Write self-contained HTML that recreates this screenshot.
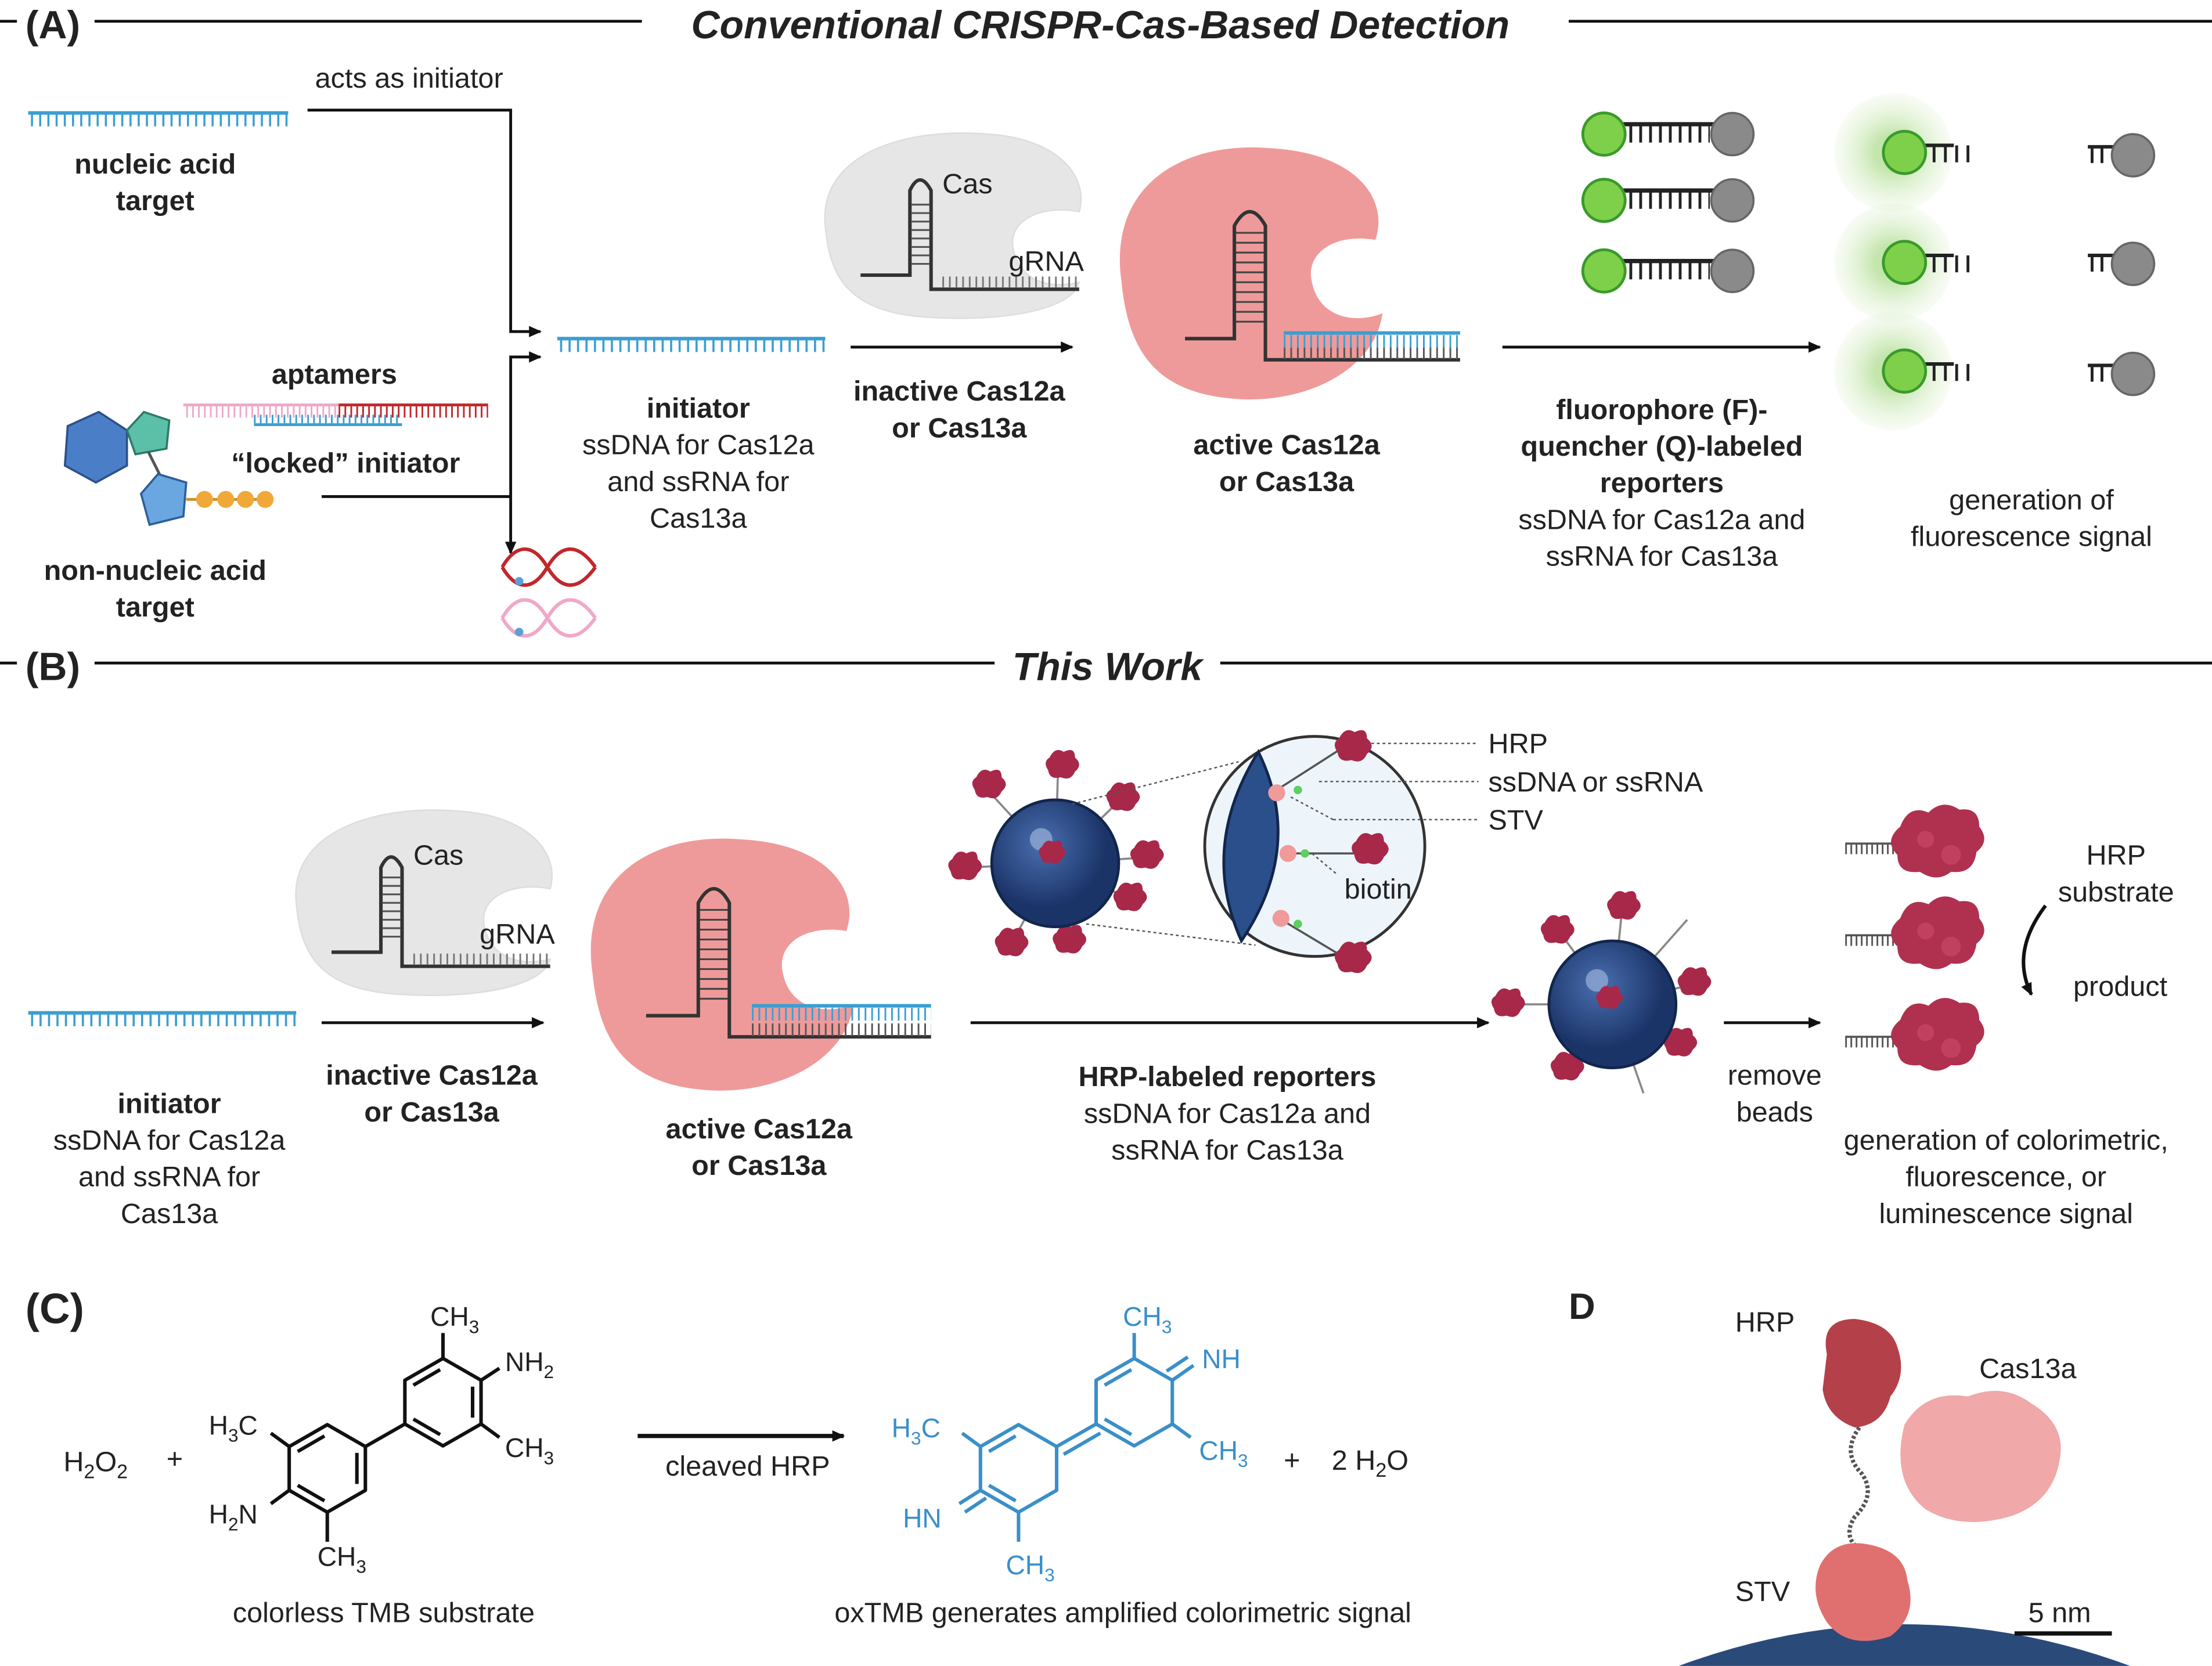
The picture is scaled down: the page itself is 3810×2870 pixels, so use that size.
<!DOCTYPE html>
<html><head><meta charset="utf-8"><style>
html,body{margin:0;padding:0;background:#fff;overflow:hidden;width:3810px;height:2870px}
svg{display:block}
text{font-family:"Liberation Sans",Arial,sans-serif;fill:#222}
.b{font-weight:bold}
.c{text-anchor:middle}
</style></head><body>
<svg width="3810" height="2870" viewBox="0 0 1568 1181" xmlns="http://www.w3.org/2000/svg" overflow="hidden">
<defs>
<marker id="ar" markerWidth="10" markerHeight="10" refX="8" refY="5" orient="auto" markerUnits="userSpaceOnUse"><path d="M0,1 L9,5 L0,9 Z" fill="#111"/></marker>
<radialGradient id="glow"><stop offset="0.3" stop-color="#9fd77a" stop-opacity="0.9"/><stop offset="1" stop-color="#dff0d0" stop-opacity="0.3"/></radialGradient>
<radialGradient id="bead" cx="0.4" cy="0.35"><stop offset="0" stop-color="#4a6fb0"/><stop offset="1" stop-color="#1b3468"/></radialGradient>
<g id="strandB"><line x1="0" y1="0" x2="190" y2="0" stroke="#3a9fd2" stroke-width="2.5"/><line x1="2" y1="5" x2="190" y2="5" stroke="#3a9fd2" stroke-width="9" stroke-dasharray="1.5 4.5"/></g>
<g id="hrp"><path d="M-8,-6 q4,-8 10,-4 q8,-4 8,4 q6,5 0,10 q-3,7 -10,4 q-8,2 -9,-5 q-4,-6 1,-9z" fill="#a8284a"/></g>
<g id="hrpBig"><path d="M-28,-14 q6,-16 20,-10 q10,-10 22,-2 q14,-2 14,12 q8,10 -2,18 q-2,16 -18,14 q-10,8 -22,0 q-16,2 -16,-12 q-10,-10 2,-20z" fill="#b0304f"/><circle cx="-10" cy="-5" r="6" fill="#c2405f"/><circle cx="8" cy="6" r="7" fill="#c2405f"/></g>
</defs>

<!-- (A) header -->
<line x1="0" y1="15" x2="455" y2="15" stroke="#111" stroke-width="2"/>
<line x1="1112" y1="15" x2="1568" y2="15" stroke="#111" stroke-width="2"/>
<rect x="12" y="0" width="55" height="30" fill="#fff"/>
<text x="18" y="27" class="b" font-size="28">(A)</text>
<text x="780" y="27" class="b c" font-size="28" font-style="italic">Conventional CRISPR-Cas-Based Detection</text>

<use href="#strandB" transform="translate(20,80) scale(0.97,1)"/>
<text x="110" y="123" class="b c" font-size="20">nucleic acid</text>
<text x="110" y="149" class="b c" font-size="20">target</text>
<text x="290" y="62" class="c" font-size="20">acts as initiator</text>

<polyline points="218,78 362,78 362,235 383,235" fill="none" stroke="#111" stroke-width="2" marker-end="url(#ar)"/>
<polyline points="228,352 362,352 362,253 383,253" fill="none" stroke="#111" stroke-width="2" marker-end="url(#ar)"/>
<line x1="362" y1="352" x2="362" y2="392" stroke="#111" stroke-width="2" marker-end="url(#ar)"/>

<use href="#strandB" transform="translate(395,240)"/>
<text x="495" y="296" class="b c" font-size="20">initiator</text>
<text x="495" y="322" class="c" font-size="20">ssDNA for Cas12a</text>
<text x="495" y="348" class="c" font-size="20">and ssRNA for</text>
<text x="495" y="374" class="c" font-size="20">Cas13a</text>

<line x1="603" y1="246" x2="760" y2="246" stroke="#111" stroke-width="2" marker-end="url(#ar)"/>
<text x="680" y="284" class="b c" font-size="20">inactive Cas12a</text>
<text x="680" y="310" class="b c" font-size="20">or Cas13a</text>

<!-- grey Cas A -->
<path d="M585,160 C580,110 640,90 700,95 C750,98 772,125 765,150 C740,145 715,155 718,175 C722,200 745,205 765,200 C760,220 710,228 660,225 C600,222 588,195 585,160Z" fill="#e6e6e6" stroke="#ddd"/>
<path d="M610,195 L645,195 L645,135 Q652,120 660,135 L660,205 L765,205" fill="none" stroke="#333" stroke-width="2.5"/>
<g stroke="#555" stroke-width="1.3"><line x1="646" y1="145" x2="659" y2="145"/><line x1="646" y1="151" x2="659" y2="151"/><line x1="646" y1="157" x2="659" y2="157"/><line x1="646" y1="163" x2="659" y2="163"/><line x1="646" y1="169" x2="659" y2="169"/><line x1="646" y1="175" x2="659" y2="175"/><line x1="646" y1="181" x2="659" y2="181"/><line x1="646" y1="187" x2="659" y2="187"/></g>
<line x1="668" y1="200" x2="765" y2="200" stroke="#777" stroke-width="8" stroke-dasharray="1.2 3.5"/>
<text x="668" y="137" font-size="20">Cas</text>
<text x="715" y="192" font-size="20">gRNA</text>

<!-- pink active A -->
<path d="M795,200 C785,130 840,100 900,105 C960,108 985,140 975,170 C945,165 925,180 930,200 C935,225 960,230 980,222 C975,260 930,285 880,283 C820,280 800,250 795,200Z" fill="#ef9a9a"/>
<path d="M840,240 L875,240 L875,160 Q886,140 897,160 L897,255 L1035,255" fill="none" stroke="#333" stroke-width="2.5"/>
<g stroke="#444" stroke-width="1.3"><line x1="876" y1="165" x2="896" y2="165"/><line x1="876" y1="172" x2="896" y2="172"/><line x1="876" y1="179" x2="896" y2="179"/><line x1="876" y1="186" x2="896" y2="186"/><line x1="876" y1="193" x2="896" y2="193"/><line x1="876" y1="200" x2="896" y2="200"/><line x1="876" y1="207" x2="896" y2="207"/><line x1="876" y1="214" x2="896" y2="214"/><line x1="876" y1="221" x2="896" y2="221"/><line x1="876" y1="228" x2="896" y2="228"/></g>
<line x1="910" y1="250" x2="1035" y2="250" stroke="#555" stroke-width="9" stroke-dasharray="1.2 3.5"/>
<line x1="910" y1="236" x2="1035" y2="236" stroke="#3a9fd2" stroke-width="2.5"/>
<line x1="910" y1="242" x2="1035" y2="242" stroke="#3a9fd2" stroke-width="9" stroke-dasharray="1.2 3.5"/>
<text x="912" y="322" class="b c" font-size="20">active Cas12a</text>
<text x="912" y="348" class="b c" font-size="20">or Cas13a</text>

<line x1="1065" y1="246" x2="1290" y2="246" stroke="#111" stroke-width="2" marker-end="url(#ar)"/>
<text x="1178" y="297" class="b c" font-size="20">fluorophore (F)-</text>
<text x="1178" y="323" class="b c" font-size="20">quencher (Q)-labeled</text>
<text x="1178" y="349" class="b c" font-size="20">reporters</text>
<text x="1178" y="375" class="c" font-size="20">ssDNA for Cas12a and</text>
<text x="1178" y="401" class="c" font-size="20">ssRNA for Cas13a</text>

<!-- reporters -->
<g id="rep">
<line x1="1150" y1="88" x2="1215" y2="88" stroke="#222" stroke-width="3"/>
<line x1="1155" y1="95" x2="1212" y2="95" stroke="#222" stroke-width="12" stroke-dasharray="2 5"/>
<circle cx="1137" cy="95" r="15" fill="#7ed04a" stroke="#3a9a2a" stroke-width="2"/>
<circle cx="1228" cy="95" r="15" fill="#8a8a8a" stroke="#666" stroke-width="1.5"/>
</g>
<use href="#rep" transform="translate(0,47)"/>
<use href="#rep" transform="translate(0,97)"/>

<g id="gl">
<circle cx="1342" cy="108" r="42" fill="url(#glow)" opacity="0.7"/>
<line x1="1358" y1="103" x2="1385" y2="103" stroke="#222" stroke-width="2.5"/>
<line x1="1370" y1="109" x2="1400" y2="109" stroke="#222" stroke-width="12" stroke-dasharray="2 6"/>
<circle cx="1350" cy="108" r="15" fill="#7ed04a" stroke="#3a9a2a" stroke-width="2"/>
</g>
<use href="#gl" transform="translate(0,78)"/>
<use href="#gl" transform="translate(0,155)"/>
<g id="q"><line x1="1480" y1="104" x2="1498" y2="104" stroke="#222" stroke-width="2.5"/><line x1="1482" y1="110" x2="1496" y2="110" stroke="#222" stroke-width="11" stroke-dasharray="2 5"/><circle cx="1512" cy="110" r="15" fill="#8a8a8a" stroke="#666" stroke-width="1.5"/></g>
<use href="#q" transform="translate(0,77)"/>
<use href="#q" transform="translate(0,155)"/>
<text x="1440" y="361" class="c" font-size="20">generation of</text>
<text x="1440" y="387" class="c" font-size="20">fluorescence signal</text>

<!-- aptamers -->
<text x="237" y="272" class="b c" font-size="20">aptamers</text>
<line x1="130" y1="287" x2="240" y2="287" stroke="#f0a8c8" stroke-width="2"/>
<line x1="132" y1="292" x2="240" y2="292" stroke="#f0a8c8" stroke-width="8" stroke-dasharray="1.2 3"/>
<line x1="240" y1="287" x2="346" y2="287" stroke="#c0282c" stroke-width="2"/>
<line x1="240" y1="292" x2="346" y2="292" stroke="#c0282c" stroke-width="8" stroke-dasharray="1.2 3"/>
<line x1="180" y1="297" x2="285" y2="297" stroke="#3a9fd2" stroke-width="6" stroke-dasharray="1.2 3"/>
<line x1="180" y1="301" x2="285" y2="301" stroke="#3a9fd2" stroke-width="2"/>
<text x="245" y="335" class="b c" font-size="20">“locked” initiator</text>

<!-- molecule -->
<polygon points="48,302 70,292 90,305 90,330 68,342 46,330" fill="#4a7fc8" stroke="#2c4f8a" stroke-width="1.5"/>
<polygon points="90,305 102,292 120,298 118,318 96,322" fill="#5cbfa8" stroke="#2c7a6a" stroke-width="1.5"/>
<line x1="105" y1="320" x2="115" y2="340" stroke="#555" stroke-width="2"/>
<polygon points="100,350 112,336 132,342 130,366 106,372" fill="#6aa6e0" stroke="#2c5f9a" stroke-width="1.5"/>
<line x1="132" y1="354" x2="190" y2="354" stroke="#c89030" stroke-width="2"/>
<circle cx="145" cy="354" r="6" fill="#f0a838"/><circle cx="160" cy="354" r="6" fill="#f0a838"/><circle cx="174" cy="354" r="6" fill="#f0a838"/><circle cx="188" cy="354" r="6" fill="#f0a838"/>
<text x="110" y="411" class="b c" font-size="20">non-nucleic acid</text>
<text x="110" y="437" class="b c" font-size="20">target</text>

<!-- helices -->
<path d="M356,402 C366,385 378,385 388,402 S410,419 422,402 M356,402 C366,419 378,419 388,402 S410,385 422,402" fill="none" stroke="#c0282c" stroke-width="2.5"/>
<path d="M356,438 C366,421 378,421 388,438 S410,455 422,438 M356,438 C366,455 378,455 388,438 S410,421 422,438" fill="none" stroke="#f0a8c8" stroke-width="2.5"/>
<circle cx="368" cy="412" r="3" fill="#5aa0d8"/><circle cx="368" cy="448" r="3" fill="#5aa0d8"/>

<!-- (B) header -->
<line x1="0" y1="470" x2="705" y2="470" stroke="#111" stroke-width="2"/>
<line x1="865" y1="470" x2="1568" y2="470" stroke="#111" stroke-width="2"/>
<rect x="12" y="455" width="55" height="30" fill="#fff"/>
<text x="18" y="482" class="b" font-size="28">(B)</text>
<text x="785" y="482" class="b c" font-size="28" font-style="italic">This Work</text>

<!-- grey Cas B -->
<path d="M210,640 C205,590 265,570 325,575 C375,578 397,605 390,630 C365,625 340,635 343,655 C347,680 370,685 390,680 C385,700 335,708 285,705 C225,702 213,675 210,640Z" fill="#e6e6e6" stroke="#ddd"/>
<path d="M235,675 L270,675 L270,615 Q277,600 285,615 L285,685 L390,685" fill="none" stroke="#333" stroke-width="2.5"/>
<g stroke="#555" stroke-width="1.3"><line x1="271" y1="622" x2="284" y2="622"/><line x1="271" y1="628" x2="284" y2="628"/><line x1="271" y1="634" x2="284" y2="634"/><line x1="271" y1="640" x2="284" y2="640"/><line x1="271" y1="646" x2="284" y2="646"/><line x1="271" y1="652" x2="284" y2="652"/><line x1="271" y1="658" x2="284" y2="658"/><line x1="271" y1="664" x2="284" y2="664"/></g>
<line x1="293" y1="680" x2="390" y2="680" stroke="#777" stroke-width="8" stroke-dasharray="1.2 3.5"/>
<text x="293" y="613" font-size="20">Cas</text>
<text x="340" y="669" font-size="20">gRNA</text>

<use href="#strandB" transform="translate(20,718)"/>
<line x1="228" y1="725" x2="385" y2="725" stroke="#111" stroke-width="2" marker-end="url(#ar)"/>
<text x="306" y="769" class="b c" font-size="20">inactive Cas12a</text>
<text x="306" y="795" class="b c" font-size="20">or Cas13a</text>
<text x="120" y="789" class="b c" font-size="20">initiator</text>
<text x="120" y="815" class="c" font-size="20">ssDNA for Cas12a</text>
<text x="120" y="841" class="c" font-size="20">and ssRNA for</text>
<text x="120" y="867" class="c" font-size="20">Cas13a</text>

<!-- pink active B -->
<path d="M420,690 C410,620 465,590 525,595 C585,598 610,630 600,660 C570,655 550,670 555,690 C560,715 585,720 605,712 C600,750 555,775 505,773 C445,770 425,740 420,690Z" fill="#ef9a9a"/>
<path d="M458,720 L495,720 L495,640 Q506,620 517,640 L517,735 L660,735" fill="none" stroke="#333" stroke-width="2.5"/>
<g stroke="#444" stroke-width="1.3"><line x1="496" y1="645" x2="516" y2="645"/><line x1="496" y1="652" x2="516" y2="652"/><line x1="496" y1="659" x2="516" y2="659"/><line x1="496" y1="666" x2="516" y2="666"/><line x1="496" y1="673" x2="516" y2="673"/><line x1="496" y1="680" x2="516" y2="680"/><line x1="496" y1="687" x2="516" y2="687"/><line x1="496" y1="694" x2="516" y2="694"/><line x1="496" y1="701" x2="516" y2="701"/><line x1="496" y1="708" x2="516" y2="708"/></g>
<line x1="533" y1="730" x2="660" y2="730" stroke="#555" stroke-width="9" stroke-dasharray="1.2 3.5"/>
<line x1="533" y1="713" x2="660" y2="713" stroke="#3a9fd2" stroke-width="2.5"/>
<line x1="533" y1="719" x2="660" y2="719" stroke="#3a9fd2" stroke-width="9" stroke-dasharray="1.2 3.5"/>
<text x="538" y="807" class="b c" font-size="20">active Cas12a</text>
<text x="538" y="833" class="b c" font-size="20">or Cas13a</text>

<line x1="688" y1="725" x2="1055" y2="725" stroke="#111" stroke-width="2" marker-end="url(#ar)"/>
<text x="870" y="770" class="b c" font-size="20">HRP-labeled reporters</text>
<text x="870" y="796" class="c" font-size="20">ssDNA for Cas12a and</text>
<text x="870" y="822" class="c" font-size="20">ssRNA for Cas13a</text>

<!-- bead 1 -->
<g stroke="#888" stroke-width="1.5">
<line x1="748" y1="612" x2="700" y2="560"/><line x1="748" y1="612" x2="750" y2="545"/><line x1="748" y1="612" x2="793" y2="568"/><line x1="748" y1="612" x2="810" y2="608"/><line x1="748" y1="612" x2="800" y2="637"/><line x1="748" y1="612" x2="757" y2="665"/><line x1="748" y1="612" x2="718" y2="667"/><line x1="748" y1="612" x2="685" y2="615"/>
</g>
<use href="#hrp" transform="translate(700,557)"/><use href="#hrp" transform="translate(752,543)"/><use href="#hrp" transform="translate(795,566)"/><use href="#hrp" transform="translate(812,607)"/><use href="#hrp" transform="translate(800,637)"/><use href="#hrp" transform="translate(757,667)"/><use href="#hrp" transform="translate(716,669)"/><use href="#hrp" transform="translate(683,615)"/>
<circle cx="748" cy="612" r="45" fill="url(#bead)" stroke="#12264d" stroke-width="2"/>
<circle cx="738" cy="595" r="8" fill="#9ab0d8" opacity="0.7"/>
<use href="#hrp" transform="translate(745,605) scale(0.8)"/>
<line x1="760" y1="570" x2="878" y2="540" stroke="#555" stroke-dasharray="2 2"/>
<line x1="770" y1="655" x2="890" y2="670" stroke="#555" stroke-dasharray="2 2"/>

<!-- zoom circle -->
<circle cx="932" cy="600" r="78" fill="#edf5fb" stroke="#333" stroke-width="2"/>
<path d="M892,533 Q850,600 880,667 Q925,600 892,533Z" fill="#2a4f8a" stroke="#12264d" stroke-width="2"/>
<g stroke="#555" stroke-width="1.5"><line x1="905" y1="560" x2="955" y2="528"/><line x1="915" y1="605" x2="965" y2="605"/><line x1="905" y1="650" x2="955" y2="680"/></g>
<circle cx="905" cy="562" r="6" fill="#f09a9a"/><circle cx="913" cy="605" r="6" fill="#f09a9a"/><circle cx="908" cy="651" r="6" fill="#f09a9a"/>
<circle cx="920" cy="560" r="3" fill="#5fcf5f"/><circle cx="925" cy="605" r="3" fill="#5fcf5f"/><circle cx="920" cy="655" r="3" fill="#5fcf5f"/>
<use href="#hrp" transform="translate(958,530) scale(1.1)"/><use href="#hrp" transform="translate(970,603) scale(1.1)"/><use href="#hrp" transform="translate(958,680) scale(1.1)"/>
<g stroke="#555" stroke-dasharray="2 2"><line x1="968" y1="527" x2="1048" y2="527"/><line x1="935" y1="554" x2="1048" y2="554"/><line x1="915" y1="565" x2="945" y2="581"/><line x1="945" y1="581" x2="1048" y2="581"/><line x1="930" y1="605" x2="948" y2="620"/></g>
<text x="1055" y="534" font-size="20">HRP</text>
<text x="1055" y="561" font-size="20">ssDNA or ssRNA</text>
<text x="1055" y="588" font-size="20">STV</text>
<text x="953" y="637" font-size="20">biotin</text>

<!-- bead 2 -->
<g stroke="#888" stroke-width="1.5">
<line x1="1143" y1="712" x2="1105" y2="660"/><line x1="1143" y1="712" x2="1150" y2="643"/><line x1="1143" y1="712" x2="1196" y2="652"/><line x1="1143" y1="712" x2="1203" y2="697"/><line x1="1143" y1="712" x2="1190" y2="740"/><line x1="1143" y1="712" x2="1165" y2="775"/><line x1="1143" y1="712" x2="1110" y2="755"/><line x1="1143" y1="712" x2="1070" y2="712"/>
</g>
<use href="#hrp" transform="translate(1103,660)"/><use href="#hrp" transform="translate(1150,643)"/><use href="#hrp" transform="translate(1200,697)"/><use href="#hrp" transform="translate(1190,740)"/><use href="#hrp" transform="translate(1110,757)"/><use href="#hrp" transform="translate(1068,712)"/>
<circle cx="1143" cy="712" r="45" fill="url(#bead)" stroke="#12264d" stroke-width="2"/>
<circle cx="1132" cy="695" r="8" fill="#9ab0d8" opacity="0.7"/>
<use href="#hrp" transform="translate(1140,708) scale(0.8)"/>

<line x1="1222" y1="725" x2="1290" y2="725" stroke="#111" stroke-width="2" marker-end="url(#ar)"/>
<text x="1258" y="769" class="c" font-size="20">remove</text>
<text x="1258" y="795" class="c" font-size="20">beads</text>

<g id="hr"><line x1="1308" y1="602" x2="1345" y2="602" stroke="#555" stroke-width="7" stroke-dasharray="1.2 2.5"/><line x1="1308" y1="598" x2="1345" y2="598" stroke="#555" stroke-width="1.5"/><use href="#hrpBig" transform="translate(1375,600)"/></g>
<use href="#hr" transform="translate(0,65)"/>
<use href="#hr" transform="translate(0,137)"/>
<text x="1500" y="613" class="c" font-size="20">HRP</text>
<text x="1500" y="639" class="c" font-size="20">substrate</text>
<text x="1503" y="706" class="c" font-size="20">product</text>
<path d="M1450,642 Q1425,675 1440,705" fill="none" stroke="#111" stroke-width="2.5" marker-end="url(#ar)"/>
<text x="1422" y="815" class="c" font-size="20">generation of colorimetric,</text>
<text x="1422" y="841" class="c" font-size="20">fluorescence, or</text>
<text x="1422" y="867" class="c" font-size="20">luminescence signal</text>

<!-- (C) -->
<text x="18" y="938" class="b" font-size="30">(C)</text>
<text x="45" y="1043" font-size="20">H<tspan font-size="14" dy="5">2</tspan><tspan dy="-5">O</tspan><tspan font-size="14" dy="5">2</tspan></text>
<text x="118" y="1041" font-size="20">+</text>
<g fill="none" stroke="#111" stroke-width="2.5" stroke-linejoin="round">
<polygon points="232,1010 259,1025.5 259,1056.5 232,1072 205,1056.5 205,1025.5"/>
<line x1="211" y1="1029" x2="230" y2="1018"/><line x1="253" y1="1030" x2="253" y2="1052"/><line x1="211" y1="1053" x2="230" y2="1064"/>
<polygon points="314,963 341,978.5 341,1009.5 314,1025 287,1009.5 287,978.5"/>
<line x1="293" y1="982" x2="312" y2="971"/><line x1="335" y1="983" x2="335" y2="1005"/><line x1="293" y1="1006" x2="312" y2="1017"/>
<line x1="259" y1="1025.5" x2="287" y2="1009.5"/>
<line x1="205" y1="1025.5" x2="192" y2="1016"/><line x1="205" y1="1056.5" x2="192" y2="1066"/><line x1="232" y1="1072" x2="232" y2="1093"/>
<line x1="314" y1="963" x2="314" y2="945"/><line x1="341" y1="978.5" x2="354" y2="970"/><line x1="341" y1="1009.5" x2="354" y2="1019"/>
</g>
<text x="305" y="940" font-size="19">CH<tspan font-size="13" dy="5">3</tspan></text>
<text x="358" y="972" font-size="19">NH<tspan font-size="13" dy="5">2</tspan></text>
<text x="358" y="1033" font-size="19">CH<tspan font-size="13" dy="5">3</tspan></text>
<text x="148" y="1017" font-size="19">H<tspan font-size="13" dy="5">3</tspan><tspan dy="-5">C</tspan></text>
<text x="148" y="1080" font-size="19">H<tspan font-size="13" dy="5">2</tspan><tspan dy="-5">N</tspan></text>
<text x="225" y="1110" font-size="19">CH<tspan font-size="13" dy="5">3</tspan></text>
<line x1="452" y1="1018" x2="598" y2="1018" stroke="#111" stroke-width="3" marker-end="url(#ar)"/>
<text x="530" y="1046" class="c" font-size="20">cleaved HRP</text>
<g fill="none" stroke="#3a8fc8" stroke-width="2.5" stroke-linejoin="round" transform="translate(490,0)">
<polygon points="232,1010 259,1025.5 259,1056.5 232,1072 205,1056.5 205,1025.5"/>
<line x1="211" y1="1029" x2="230" y2="1018"/><line x1="211" y1="1053" x2="230" y2="1064"/>
<polygon points="314,963 341,978.5 341,1009.5 314,1025 287,1009.5 287,978.5"/>
<line x1="293" y1="982" x2="312" y2="971"/><line x1="293" y1="1006" x2="312" y2="1017"/>
<line x1="259" y1="1025.5" x2="287" y2="1009.5"/><line x1="264" y1="1031" x2="290" y2="1016"/>
<line x1="205" y1="1025.5" x2="192" y2="1016"/><line x1="205" y1="1056.5" x2="190" y2="1066"/><line x1="209" y1="1062" x2="194" y2="1072"/><line x1="232" y1="1072" x2="232" y2="1093"/>
<line x1="314" y1="963" x2="314" y2="945"/><line x1="341" y1="978.5" x2="356" y2="968"/><line x1="337" y1="972" x2="352" y2="962"/><line x1="341" y1="1009.5" x2="354" y2="1019"/>
</g>
<text x="796" y="940" font-size="19" style="fill:#3a8fc8">CH<tspan font-size="13" dy="5">3</tspan></text>
<text x="852" y="970" font-size="19" style="fill:#3a8fc8">NH</text>
<text x="850" y="1035" font-size="19" style="fill:#3a8fc8">CH<tspan font-size="13" dy="5">3</tspan></text>
<text x="632" y="1019" font-size="19" style="fill:#3a8fc8">H<tspan font-size="13" dy="5">3</tspan><tspan dy="-5">C</tspan></text>
<text x="640" y="1083" font-size="19" style="fill:#3a8fc8">HN</text>
<text x="713" y="1116" font-size="19" style="fill:#3a8fc8">CH<tspan font-size="13" dy="5">3</tspan></text>
<text x="910" y="1042" font-size="20">+</text>
<text x="944" y="1042" font-size="20">2 H<tspan font-size="14" dy="5">2</tspan><tspan dy="-5">O</tspan></text>
<text x="272" y="1150" class="c" font-size="20">colorless TMB substrate</text>
<text x="796" y="1150" class="c" font-size="20">oxTMB generates amplified colorimetric signal</text>

<!-- D -->
<text x="1112" y="935" class="b" font-size="26">D</text>
<text x="1230" y="944" font-size="20">HRP</text>
<text x="1403" y="977" font-size="20">Cas13a</text>
<text x="1230" y="1135" font-size="20">STV</text>
<path d="M1190,1181 Q1350,1122 1510,1181 Z" fill="#2a4a7a"/>
<path d="M1295,960 Q1290,935 1315,935 Q1340,938 1345,955 Q1352,975 1340,990 Q1335,1010 1315,1012 Q1295,1005 1292,985 Z" fill="#b4404a"/>
<path d="M1318,1012 Q1305,1030 1320,1045 Q1330,1060 1315,1075 Q1305,1090 1320,1100" fill="none" stroke="#555" stroke-width="3" stroke-dasharray="2 1.5"/>
<path d="M1290,1110 Q1300,1090 1325,1095 Q1350,1100 1352,1120 Q1360,1145 1340,1160 Q1310,1170 1295,1150 Q1282,1130 1290,1110Z" fill="#e07070"/>
<path d="M1350,1010 Q1365,985 1395,990 Q1420,980 1440,995 Q1465,1010 1460,1035 Q1455,1065 1425,1075 Q1390,1085 1365,1070 Q1340,1050 1350,1010Z" fill="#f0a8a8"/>
<line x1="1428" y1="1158" x2="1497" y2="1158" stroke="#111" stroke-width="3"/>
<text x="1460" y="1150" class="c" font-size="20">5 nm</text>
</svg>
</body></html>
